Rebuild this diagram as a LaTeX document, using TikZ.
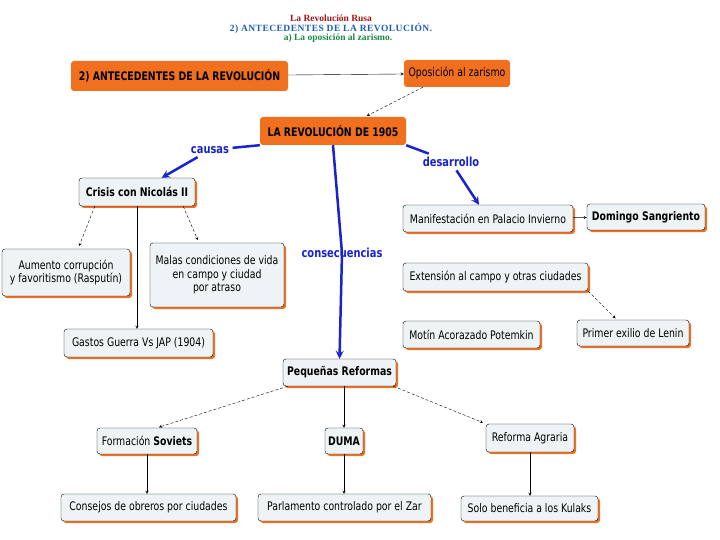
\documentclass[tikz,border=0pt]{standalone}
\usepackage{fontspec}
\newfontfamily\mapfont[FakeStretch=0.88]{DejaVu Sans Condensed}
\newfontfamily\titfont{Liberation Serif}
\usetikzlibrary{shadows}
\definecolor{naranja}{RGB}{240,112,32}
\definecolor{celeste}{RGB}{238,244,246}
\definecolor{azul}{RGB}{25,35,205}
\definecolor{rojo}{RGB}{165,20,20}
\definecolor{azult}{RGB}{30,95,175}
\definecolor{verde}{RGB}{25,135,70}

\begin{document}
\begin{tikzpicture}[x=1pt,y=-1pt,>=stealth,
  every node/.style={font=\mapfont\fontsize{11.8}{13.5}\selectfont},
  onode/.style={fill=naranja,rounded corners=3pt,inner sep=0pt},
  cnode/.style={draw,fill=celeste,rounded corners=3pt,inner sep=0pt,
    drop shadow={fill=naranja,opacity=1,shadow xshift=2pt,shadow yshift=-2pt}},
  enl/.style={text=azul,font=\mapfont\bfseries\fontsize{12.5}{14}\selectfont},
  blue/.style={azul,line width=2.5pt}]
\useasboundingbox (0,0) rectangle (720,540);

% titulo
\node (T1) at (331,18) {\titfont\bfseries\fontsize{9.5}{10}\selectfont\color{rojo}La Revolución Rusa};
\node (T2) at (331,28) {\titfont\bfseries\fontsize{9.5}{10}\selectfont\addfontfeature{LetterSpace=5}\color{azult}2) ANTECEDENTES DE LA REVOLUCIÓN.};
\node (T3) at (338,38) {\titfont\bfseries\fontsize{9.5}{10}\selectfont\color{verde}a) La oposición al zarismo.};

% cajas naranjas
\node[onode,minimum width=217,minimum height=30] (A) at (179.5,76) {\bfseries 2) ANTECEDENTES DE LA REVOLUCIÓN};
\node[onode,minimum width=106,minimum height=27] (O) at (457,73.5) {Oposición al zarismo};
\node[onode,minimum width=146,minimum height=28] (R) at (333,131) {\bfseries LA REVOLUCIÓN DE 1905};

% causas
\node[cnode,minimum width=116,minimum height=28] (C) at (137,192) {\bfseries Crisis con Nicolás II};
\node[cnode,minimum width=128,minimum height=47,align=center] (Au) at (66,272.5) {Aumento corrupción\\y favoritismo (Rasputín)};
\node[cnode,minimum width=134,minimum height=64,align=center] (M) at (217,275) {Malas condiciones de vida\\en campo y ciudad\\por atraso};
\node[cnode,minimum width=149,minimum height=28] (G) at (138.5,343) {Gastos Guerra Vs JAP (1904)};

% desarrollo
\node[cnode,minimum width=170,minimum height=27] (Mf) at (488,218.5) {Manifestación en Palacio Invierno};
\node[cnode,minimum width=118,minimum height=26] (D) at (646,217) {\bfseries Domingo Sangriento};
\node[cnode,minimum width=185,minimum height=28] (E) at (495.5,277) {Extensión al campo y otras ciudades};
\node[cnode,minimum width=112,minimum height=26] (P) at (633,333) {Primer exilio de Lenin};
\node[cnode,minimum width=137,minimum height=27] (Mt) at (471.5,334.5) {Motín Acorazado Potemkin};

% consecuencias
\node[cnode,minimum width=113,minimum height=27] (PR) at (339.5,372.5) {\bfseries Pequeñas Reformas};
\node[cnode,minimum width=100,minimum height=26] (F) at (147,441) {Formación \textbf{Soviets}};
\node[cnode,minimum width=38,minimum height=26] (Du) at (344,441) {\bfseries DUMA};
\node[cnode,minimum width=88,minimum height=28] (RA) at (530,438) {Reforma Agraria};
\node[cnode,minimum width=175,minimum height=27] (Co) at (148.5,507.5) {Consejos de obreros por ciudades};
\node[cnode,minimum width=173,minimum height=27] (Pa) at (344.5,507.5) {Parlamento controlado por el Zar};
\node[cnode,minimum width=137,minimum height=25] (S) at (529.5,508.5) {Solo beneficia a los Kulaks};

% enlaces azules
\node[enl] (ca) at (210,150) {causas};
\node[enl] (de) at (451,162) {desarrollo};
\draw[blue] (R.south west) -- (ca);
\draw[blue,->] (ca) -- (C);
\draw[blue] (R.south) -- (342,253);
\draw[blue,->] (342,253) -- (PR.north);
\node[enl] (cs) at (342,253) {consecuencias};
\draw[blue] (R.south east) -- (de);
\draw[blue,->] (de) -- (Mf);

% enlaces negros
\draw[->] (A) -- (O);
\draw[->,densely dashed,shorten >=2pt] ([xshift=-34pt]O.south) -- ([xshift=32pt]R.north);
\draw[->,densely dashed,shorten >=3pt] ([xshift=16pt]C.south west) -- ([xshift=12pt]Au.north);
\draw[->,densely dashed,shorten >=3pt] ([xshift=-12pt]C.south east) -- ([xshift=-18pt]M.north);
\draw[->] (C.south) -- (C.south |- G.north);
\draw[->] (Mf) -- (D);
\draw[->,densely dashed,shorten >=2pt] (E.south east) -- ([xshift=-16pt]P.north);
\draw[->,densely dashed,shorten >=2pt] ([xshift=5pt]PR.south west) -- ([xshift=10pt]F.north);
\draw[->] (Du.north |- PR.south) -- (Du.north);
\draw[->,densely dashed,shorten >=3pt] ([xshift=-3pt]PR.south east) -- (RA.north west);
\draw[->] (F.south) -- (F.south |- Co.north);
\draw[->] (Du.south) -- (Du.south |- Pa.north);
\draw[->] (RA.south) -- (RA.south |- S.north);
\end{tikzpicture}
\end{document}
